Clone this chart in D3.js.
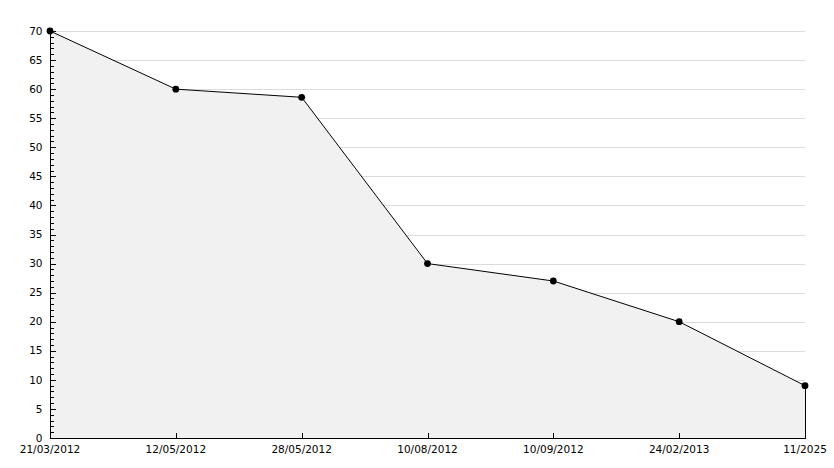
<!DOCTYPE html>
<html>
<head>
<meta charset="utf-8">
<script src="https://cdn.jsdelivr.net/npm/d3@7"></script>
<style>
  body { margin: 0; background: #fff; }
  svg { display: block; }
  text { font-family: "DejaVu Sans", Verdana, sans-serif; font-size: 10.5px; fill: #000; }
</style>
</head>
<body>
<svg id="chart"></svg>
<script>
const dates = ["21/03/2012", "12/05/2012", "28/05/2012", "10/08/2012", "10/09/2012", "24/02/2013", "11/2025"];
const values = [70, 60, 58.6, 30, 27, 20, 9];
const yTicks = [0, 5, 10, 15, 20, 25, 30, 35, 40, 45, 50, 55, 60, 65, 70];

function drawChart() {
    const width = 834, height = 468, margin = {top: 31, right: 29, bottom: 30, left: 50};
    const svg = d3.select("#chart").attr("width", width).attr("height", height);
    const innerW = width - margin.left - margin.right;
    const innerH = height - margin.top - margin.bottom;

    const x = d3.scalePoint().domain(dates).range([0, innerW]).padding(0);
    const y = d3.scaleLinear().domain([0, 70]).range([innerH, 0]);

    const data = dates.map((d, i) => ({date: d, value: values[i]}));

    const g = svg.append("g")
        .attr("transform", `translate(${margin.left}, ${margin.top})`);

    // grid lines
    g.append("g")
        .selectAll("line")
        .data(yTicks.filter((d) => d > 0))
        .join("line")
        .attr("x1", 0)
        .attr("x2", innerW)
        .attr("y1", (d) => Math.round(y(d)) + 0.5)
        .attr("y2", (d) => Math.round(y(d)) + 0.5)
        .attr("stroke", "#dcdcdc")
        .attr("shape-rendering", "crispEdges");

    const area = d3.area()
        .x((d) => x(d.date))
        .y0(y(0))
        .y1((d) => y(d.value));

    g.append("path")
        .datum(data)
        .attr("fill", "#f1f1f1")
        .attr("d", area);

    const line = d3.line()
        .x((d) => x(d.date))
        .y((d) => y(d.value));

    g.append("path")
        .datum(data)
        .attr("fill", "none")
        .attr("stroke", "#000")
        .attr("stroke-width", 1)
        .attr("d", line);

    // right edge of the area
    const last = data[data.length - 1];
    g.append("line")
        .attr("x1", x(last.date) + 0.5)
        .attr("x2", x(last.date) + 0.5)
        .attr("y1", y(last.value))
        .attr("y2", y(0))
        .attr("stroke", "#000")
        .attr("shape-rendering", "crispEdges");

    // y axis: minor ticks every unit, labels every 5
    const yAxis = g.append("g").attr("transform", "translate(0.5,0)");
    yAxis.append("line")
        .attr("y1", y(70))
        .attr("y2", y(0))
        .attr("stroke", "#000")
        .attr("shape-rendering", "crispEdges");
    yAxis.selectAll(".minor")
        .data(d3.range(0, 71))
        .join("line")
        .attr("class", "minor")
        .attr("x1", 0)
        .attr("x2", (d) => (d % 5 === 0 ? 5 : 3))
        .attr("y1", (d) => Math.round(y(d)) + 0.5)
        .attr("y2", (d) => Math.round(y(d)) + 0.5)
        .attr("stroke", "#000")
        .attr("shape-rendering", "crispEdges");
    yAxis.selectAll("text")
        .data(yTicks)
        .join("text")
        .attr("x", -8)
        .attr("y", (d) => y(d))
        .attr("dy", "0.35em")
        .attr("text-anchor", "end")
        .text((d) => d);

    // x axis
    const xAxis = g.append("g").attr("transform", `translate(0, ${innerH + 0.5})`);
    xAxis.append("line")
        .attr("x1", 0)
        .attr("x2", innerW)
        .attr("stroke", "#000")
        .attr("shape-rendering", "crispEdges");
    xAxis.selectAll(".tick")
        .data(dates)
        .join("line")
        .attr("class", "tick")
        .attr("x1", (d) => Math.round(x(d)) + 0.5)
        .attr("x2", (d) => Math.round(x(d)) + 0.5)
        .attr("y1", 0)
        .attr("y2", -6)
        .attr("stroke", "#000")
        .attr("shape-rendering", "crispEdges");
    xAxis.selectAll("text")
        .data(dates)
        .join("text")
        .attr("x", (d) => x(d))
        .attr("y", 14)
        .attr("text-anchor", "middle")
        .text((d) => d);

    // markers
    g.selectAll(".dot")
        .data(data)
        .join("circle")
        .attr("class", "dot")
        .attr("cx", (d) => x(d.date))
        .attr("cy", (d) => y(d.value))
        .attr("r", 3.4)
        .attr("fill", "#000");
}

drawChart();
</script>
</body>
</html>
